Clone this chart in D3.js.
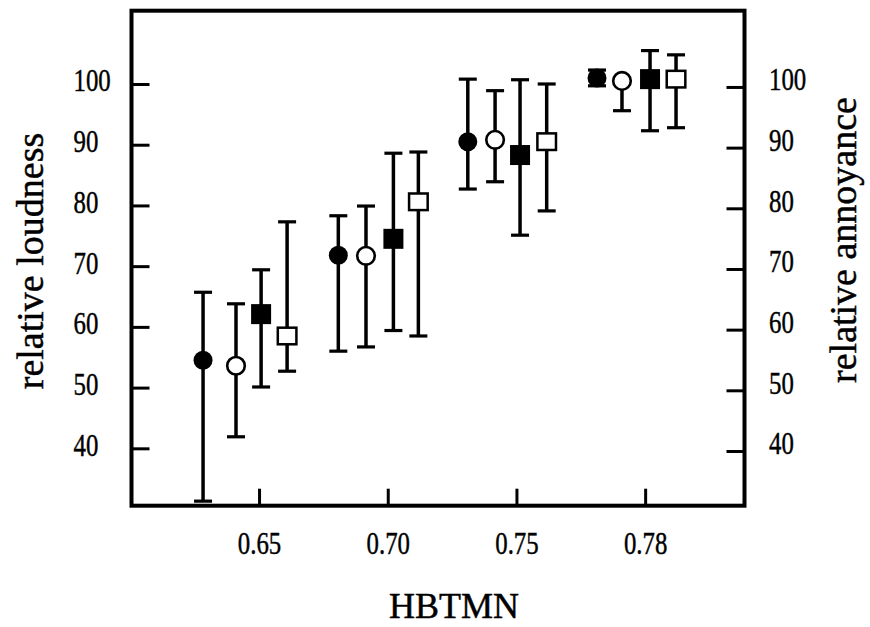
<!DOCTYPE html>
<html>
<head>
<meta charset="utf-8">
<script src="https://cdn.jsdelivr.net/npm/d3@7"></script>
<style>
  body { margin: 0; background: #fff; }
  svg { display: block; }
  text { font-family: "Liberation Serif", "DejaVu Serif", serif; fill: #000; stroke: #000; stroke-width: 0.45px; }
</style>
</head>
<body>
<svg id="canvas"></svg>
<script>
let groups = ['0.65', '0.70', '0.75', '0.78']
let leftTicks = [40, 50, 60, 70, 80, 90, 100]
let rightTicks = [40, 50, 60, 70, 80, 90, 100]

// x is given in group units (0 = 0.65, 1 = 0.70 ...)
let filledCircleX = [-0.435, 0.616, 1.622, 2.626]
let filledCircleMean = [54.5, 71.8, 90.5, 101.0]
let filledCircleLow = [31.3, 56.0, 82.7, 99.7]
let filledCircleHigh = [65.7, 78.3, 100.8, 102.3]

let openCircleX = [-0.179, 0.831, 1.834, 2.820]
let openCircleMean = [53.6, 71.7, 90.8, 100.5]
let openCircleLow = [41.9, 56.7, 83.9, 95.6]
let openCircleHigh = [63.8, 79.9, 98.9, 100.5]

let filledSquareX = [0.016, 1.044, 2.028, 3.038]
let filledSquareMean = [62.1, 74.5, 88.3, 100.8]
let filledSquareLow = [50.1, 59.4, 75.1, 92.3]
let filledSquareHigh = [69.4, 88.6, 100.7, 105.5]

let openSquareX = [0.218, 1.238, 2.235, 3.240]
let openSquareMean = [58.5, 80.6, 90.5, 100.8]
let openSquareLow = [52.7, 58.5, 79.1, 92.8]
let openSquareHigh = [77.3, 88.8, 100.0, 104.8]

let width = 870
let height = 627
let plotLeft = 131.5
let plotRight = 744.5
let plotTop = 10.7
let plotBottom = 505.7
let squeeze = 0.8

let canvas = d3.select('#canvas')
               .attr('width', width)
               .attr('height', height)

let makeSeries = (shape, filled, xs, means, lows, highs) => {
  return xs.map((x, i) => ({ shape: shape, filled: filled, x: x, mean: means[i], low: lows[i], high: highs[i] }))
}

let points = [].concat(
  makeSeries('circle', true, filledCircleX, filledCircleMean, filledCircleLow, filledCircleHigh),
  makeSeries('circle', false, openCircleX, openCircleMean, openCircleLow, openCircleHigh),
  makeSeries('square', true, filledSquareX, filledSquareMean, filledSquareLow, filledSquareHigh),
  makeSeries('square', false, openSquareX, openSquareMean, openSquareLow, openSquareHigh)
)

let xScale = d3.scaleLinear()
               .domain([-0.991, 3.772])
               .range([plotLeft, plotRight])

let yScale = d3.scaleLinear()
               .domain([30.55, 112.07])
               .range([plotBottom, plotTop])

let yRightScale = d3.scaleLinear()
                    .domain([30.98, 112.57])
                    .range([plotBottom, plotTop])

let drawAxes = () => {
  let xAxis = d3.axisBottom(xScale)
                .tickValues(d3.range(groups.length))
                .tickFormat((d) => groups[d])
                .tickSize(-17)
                .tickSizeOuter(0)

  let yAxis = d3.axisLeft(yScale)
                .tickValues(leftTicks)
                .tickSize(-18)
                .tickSizeOuter(0)

  let yRightAxis = d3.axisRight(yRightScale)
                     .tickValues(rightTicks)
                     .tickSize(-18)
                     .tickSizeOuter(0)

  let gx = canvas.append('g')
                 .attr('transform', `translate(0, ${plotBottom})`)
                 .call(xAxis)
  gx.selectAll('text')
    .attr('y', 48)
    .attr('dy', 0)
    .attr('transform', `scale(${squeeze}, 1)`)

  let gy = canvas.append('g')
                 .attr('transform', `translate(${plotLeft}, 0)`)
                 .call(yAxis)
  gy.selectAll('text')
    .attr('text-anchor', 'start')
    .attr('x', -58 / squeeze)
    .attr('y', -3)
    .attr('transform', `scale(${squeeze}, 1)`)

  let gr = canvas.append('g')
                 .attr('transform', `translate(${plotRight}, 0)`)
                 .call(yRightAxis)
  gr.selectAll('text')
    .attr('text-anchor', 'start')
    .attr('x', 24.5 / squeeze)
    .attr('y', -7)
    .attr('transform', `scale(${squeeze}, 1)`)

  canvas.selectAll('.domain').remove()
  canvas.selectAll('.tick line')
        .attr('stroke', '#000')
        .attr('stroke-width', 3)
  canvas.selectAll('g')
        .attr('font-size', null)
        .attr('font-family', null)
  canvas.selectAll('.tick text')
        .attr('font-size', 31)

  // frame
  canvas.append('rect')
        .attr('x', plotLeft)
        .attr('y', plotTop)
        .attr('width', plotRight - plotLeft)
        .attr('height', plotBottom - plotTop)
        .attr('fill', 'none')
        .attr('stroke', '#000')
        .attr('stroke-width', 4)

  canvas.append('text')
        .attr('transform', 'translate(43, 261) rotate(-90)')
        .attr('text-anchor', 'middle')
        .attr('font-size', 38)
        .text('relative loudness')

  canvas.append('text')
        .attr('transform', 'translate(856, 240) rotate(-90)')
        .attr('text-anchor', 'middle')
        .attr('font-size', 38)
        .text('relative annoyance')

  canvas.append('text')
        .attr('x', 454)
        .attr('y', 618)
        .attr('text-anchor', 'middle')
        .attr('font-size', 36)
        .text('HBTMN')
}

let drawPoints = () => {
  let bars = canvas.append('g')
                   .attr('stroke', '#000')

  bars.selectAll('.whisker')
      .data(points)
      .enter()
      .append('line')
      .attr('class', 'whisker')
      .attr('x1', (d) => xScale(d.x))
      .attr('x2', (d) => xScale(d.x))
      .attr('y1', (d) => yScale(d.low))
      .attr('y2', (d) => yScale(d.high))
      .attr('stroke-width', 3.5)

  bars.selectAll('.cap')
      .data(points.flatMap((d) => [{ x: d.x, v: d.low }, { x: d.x, v: d.high }]))
      .enter()
      .append('line')
      .attr('class', 'cap')
      .attr('x1', (d) => xScale(d.x) - 9)
      .attr('x2', (d) => xScale(d.x) + 9)
      .attr('y1', (d) => yScale(d.v))
      .attr('y2', (d) => yScale(d.v))
      .attr('stroke-width', 3.2)

  let marks = canvas.append('g')

  marks.selectAll('circle')
       .data(points.filter((d) => d.shape === 'circle'))
       .enter()
       .append('circle')
       .attr('cx', (d) => xScale(d.x))
       .attr('cy', (d) => yScale(d.mean))
       .attr('r', (d) => d.filled ? 9.5 : 8.8)
       .attr('fill', (d) => d.filled ? '#000' : '#fff')
       .attr('stroke', '#000')
       .attr('stroke-width', (d) => d.filled ? 0 : 2.6)

  marks.selectAll('rect')
       .data(points.filter((d) => d.shape === 'square'))
       .enter()
       .append('rect')
       .attr('x', (d) => xScale(d.x) - (d.filled ? 10 : 9.3))
       .attr('y', (d) => yScale(d.mean) - (d.filled ? 10 : 8.3))
       .attr('width', (d) => d.filled ? 20 : 18.6)
       .attr('height', (d) => d.filled ? 20 : 16.6)
       .attr('fill', (d) => d.filled ? '#000' : '#fff')
       .attr('stroke', '#000')
       .attr('stroke-width', (d) => d.filled ? 0 : 2.5)
}

drawAxes()
drawPoints()
</script>
</body>
</html>
